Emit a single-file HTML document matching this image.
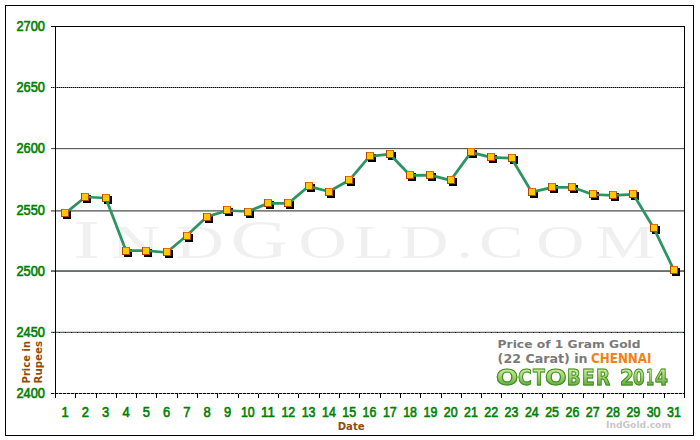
<!DOCTYPE html>
<html><head><meta charset="utf-8"><title>Gold price chart</title>
<style>
html,body{margin:0;padding:0;background:#fff;width:700px;height:440px;overflow:hidden}
svg{display:block}
.wrap{position:relative;width:700px;height:440px}
.oct{position:absolute;left:0;top:0;width:700px;height:440px;font-family:"DejaVu Sans",sans-serif;font-weight:bold;font-size:22px;line-height:22px;white-space:pre}
.oct span{position:absolute;top:367.3px;transform-origin:0 0;background:linear-gradient(to bottom,#cce79a 12%,#a0d16c 45%,#62ad3c 84%);-webkit-background-clip:text;background-clip:text;color:transparent;-webkit-text-stroke:1px #3d8e22}
.yl{font-family:"Liberation Sans",Arial,sans-serif;font-weight:normal;font-size:14px;fill:#008000;stroke:#008000;stroke-width:0.6px}
.xl{font-family:"Liberation Sans",Arial,sans-serif;font-weight:normal;font-size:14px;fill:#008000;stroke:#008000;stroke-width:0.6px}
.br{font-family:"DejaVu Sans",sans-serif;font-weight:bold;font-size:10px;fill:#8f4c0d}
.wm{font-family:"Liberation Serif",serif;fill:#f0f0f0;text-transform:uppercase}
.tt{font-family:"DejaVu Sans",sans-serif;font-weight:bold;fill:#7a7a7a}
</style></head><body>
<div class="wrap">
<svg width="700" height="440" viewBox="0 0 700 440">
<rect x="0" y="0" width="700" height="440" fill="#fff"/>

<rect x="5.5" y="5.5" width="688" height="430" fill="none" stroke="#000" stroke-width="1" shape-rendering="crispEdges"/>
<text class="wm" transform="scale(1.45,1)" y="258" font-size="55.3"><tspan x="50.5">I</tspan><tspan font-size="46" x="76.95 121.05">nd</tspan><tspan x="158.93">G</tspan><tspan font-size="46" x="205.78 243.72 276.02 314.69 330.29 369.91 410.74">old.com</tspan></text>
<line x1="51" y1="87.5" x2="684" y2="87.5" stroke="#7a7a7a" stroke-width="1" shape-rendering="crispEdges"/>
<line x1="51" y1="87.5" x2="684" y2="87.5" stroke="#000" stroke-width="1" stroke-dasharray="1 1" shape-rendering="crispEdges"/>
<line x1="51" y1="148.5" x2="684" y2="148.5" stroke="#5a5e5a" stroke-width="1" shape-rendering="crispEdges"/>
<line x1="51" y1="149.5" x2="684" y2="149.5" stroke="#e4e4e4" stroke-width="1" shape-rendering="crispEdges"/>
<line x1="51" y1="210.5" x2="684" y2="210.5" stroke="#7c7e7c" stroke-width="1" shape-rendering="crispEdges"/>
<line x1="51" y1="211.5" x2="684" y2="211.5" stroke="#a4a6a4" stroke-width="1" shape-rendering="crispEdges"/>
<line x1="51" y1="270.5" x2="684" y2="270.5" stroke="#7a7e7a" stroke-width="1" shape-rendering="crispEdges"/>
<line x1="51" y1="271.5" x2="684" y2="271.5" stroke="#6a6e6a" stroke-width="1" shape-rendering="crispEdges"/>
<line x1="51" y1="332.5" x2="684" y2="332.5" stroke="#5e625e" stroke-width="1" shape-rendering="crispEdges"/>
<line x1="53" y1="332.5" x2="684" y2="332.5" stroke="#000" stroke-width="1" stroke-dasharray="1 5" shape-rendering="crispEdges"/>
<line x1="51" y1="331.5" x2="684" y2="331.5" stroke="#d4d8d4" stroke-width="1" shape-rendering="crispEdges"/>
<line x1="51" y1="26.5" x2="685" y2="26.5" stroke="#000" stroke-width="1" shape-rendering="crispEdges"/>
<line x1="51" y1="393.5" x2="685" y2="393.5" stroke="#a0a0a0" stroke-width="1" shape-rendering="crispEdges"/>
<line x1="51" y1="393.5" x2="685" y2="393.5" stroke="#000" stroke-width="1" stroke-dasharray="3 1" shape-rendering="crispEdges"/>
<line x1="55.5" y1="26" x2="55.5" y2="398" stroke="#000" stroke-width="1" shape-rendering="crispEdges"/>
<line x1="684.5" y1="26" x2="684.5" y2="394" stroke="#000" stroke-width="1" shape-rendering="crispEdges"/>
<line x1="75.5" y1="394" x2="75.5" y2="398" stroke="#000" stroke-width="1" shape-rendering="crispEdges"/>
<line x1="96.5" y1="394" x2="96.5" y2="398" stroke="#000" stroke-width="1" shape-rendering="crispEdges"/>
<line x1="116.5" y1="394" x2="116.5" y2="398" stroke="#000" stroke-width="1" shape-rendering="crispEdges"/>
<line x1="136.5" y1="394" x2="136.5" y2="398" stroke="#000" stroke-width="1" shape-rendering="crispEdges"/>
<line x1="156.5" y1="394" x2="156.5" y2="398" stroke="#000" stroke-width="1" shape-rendering="crispEdges"/>
<line x1="177.5" y1="394" x2="177.5" y2="398" stroke="#000" stroke-width="1" shape-rendering="crispEdges"/>
<line x1="197.5" y1="394" x2="197.5" y2="398" stroke="#000" stroke-width="1" shape-rendering="crispEdges"/>
<line x1="217.5" y1="394" x2="217.5" y2="398" stroke="#000" stroke-width="1" shape-rendering="crispEdges"/>
<line x1="238.5" y1="394" x2="238.5" y2="398" stroke="#000" stroke-width="1" shape-rendering="crispEdges"/>
<line x1="258.5" y1="394" x2="258.5" y2="398" stroke="#000" stroke-width="1" shape-rendering="crispEdges"/>
<line x1="278.5" y1="394" x2="278.5" y2="398" stroke="#000" stroke-width="1" shape-rendering="crispEdges"/>
<line x1="298.5" y1="394" x2="298.5" y2="398" stroke="#000" stroke-width="1" shape-rendering="crispEdges"/>
<line x1="319.5" y1="394" x2="319.5" y2="398" stroke="#000" stroke-width="1" shape-rendering="crispEdges"/>
<line x1="339.5" y1="394" x2="339.5" y2="398" stroke="#000" stroke-width="1" shape-rendering="crispEdges"/>
<line x1="359.5" y1="394" x2="359.5" y2="398" stroke="#000" stroke-width="1" shape-rendering="crispEdges"/>
<line x1="380.5" y1="394" x2="380.5" y2="398" stroke="#000" stroke-width="1" shape-rendering="crispEdges"/>
<line x1="400.5" y1="394" x2="400.5" y2="398" stroke="#000" stroke-width="1" shape-rendering="crispEdges"/>
<line x1="420.5" y1="394" x2="420.5" y2="398" stroke="#000" stroke-width="1" shape-rendering="crispEdges"/>
<line x1="441.5" y1="394" x2="441.5" y2="398" stroke="#000" stroke-width="1" shape-rendering="crispEdges"/>
<line x1="461.5" y1="394" x2="461.5" y2="398" stroke="#000" stroke-width="1" shape-rendering="crispEdges"/>
<line x1="481.5" y1="394" x2="481.5" y2="398" stroke="#000" stroke-width="1" shape-rendering="crispEdges"/>
<line x1="501.5" y1="394" x2="501.5" y2="398" stroke="#000" stroke-width="1" shape-rendering="crispEdges"/>
<line x1="522.5" y1="394" x2="522.5" y2="398" stroke="#000" stroke-width="1" shape-rendering="crispEdges"/>
<line x1="542.5" y1="394" x2="542.5" y2="398" stroke="#000" stroke-width="1" shape-rendering="crispEdges"/>
<line x1="562.5" y1="394" x2="562.5" y2="398" stroke="#000" stroke-width="1" shape-rendering="crispEdges"/>
<line x1="583.5" y1="394" x2="583.5" y2="398" stroke="#000" stroke-width="1" shape-rendering="crispEdges"/>
<line x1="603.5" y1="394" x2="603.5" y2="398" stroke="#000" stroke-width="1" shape-rendering="crispEdges"/>
<line x1="623.5" y1="394" x2="623.5" y2="398" stroke="#000" stroke-width="1" shape-rendering="crispEdges"/>
<line x1="643.5" y1="394" x2="643.5" y2="398" stroke="#000" stroke-width="1" shape-rendering="crispEdges"/>
<line x1="664.5" y1="394" x2="664.5" y2="398" stroke="#000" stroke-width="1" shape-rendering="crispEdges"/>
<line x1="684.5" y1="394" x2="684.5" y2="398" stroke="#000" stroke-width="1" shape-rendering="crispEdges"/>
<text class="yl" x="45" y="31" text-anchor="end" textLength="28.5" lengthAdjust="spacingAndGlyphs">2700</text>
<text class="yl" x="45" y="92" text-anchor="end" textLength="28.5" lengthAdjust="spacingAndGlyphs">2650</text>
<text class="yl" x="45" y="153" text-anchor="end" textLength="28.5" lengthAdjust="spacingAndGlyphs">2600</text>
<text class="yl" x="45" y="215" text-anchor="end" textLength="28.5" lengthAdjust="spacingAndGlyphs">2550</text>
<text class="yl" x="45" y="276" text-anchor="end" textLength="28.5" lengthAdjust="spacingAndGlyphs">2500</text>
<text class="yl" x="45" y="337" text-anchor="end" textLength="28.5" lengthAdjust="spacingAndGlyphs">2450</text>
<text class="yl" x="45" y="398" text-anchor="end" textLength="28.5" lengthAdjust="spacingAndGlyphs">2400</text>
<text class="xl" x="65.1" y="417" text-anchor="middle" textLength="7.2" lengthAdjust="spacingAndGlyphs">1</text>
<text class="xl" x="85.4" y="417" text-anchor="middle" textLength="7.2" lengthAdjust="spacingAndGlyphs">2</text>
<text class="xl" x="105.7" y="417" text-anchor="middle" textLength="7.2" lengthAdjust="spacingAndGlyphs">3</text>
<text class="xl" x="126.0" y="417" text-anchor="middle" textLength="7.2" lengthAdjust="spacingAndGlyphs">4</text>
<text class="xl" x="146.3" y="417" text-anchor="middle" textLength="7.2" lengthAdjust="spacingAndGlyphs">5</text>
<text class="xl" x="166.6" y="417" text-anchor="middle" textLength="7.2" lengthAdjust="spacingAndGlyphs">6</text>
<text class="xl" x="186.9" y="417" text-anchor="middle" textLength="7.2" lengthAdjust="spacingAndGlyphs">7</text>
<text class="xl" x="207.2" y="417" text-anchor="middle" textLength="7.2" lengthAdjust="spacingAndGlyphs">8</text>
<text class="xl" x="227.5" y="417" text-anchor="middle" textLength="7.2" lengthAdjust="spacingAndGlyphs">9</text>
<text class="xl" x="247.8" y="417" text-anchor="middle" textLength="13.8" lengthAdjust="spacingAndGlyphs">10</text>
<text class="xl" x="268.0" y="417" text-anchor="middle" textLength="13.8" lengthAdjust="spacingAndGlyphs">11</text>
<text class="xl" x="288.3" y="417" text-anchor="middle" textLength="13.8" lengthAdjust="spacingAndGlyphs">12</text>
<text class="xl" x="308.6" y="417" text-anchor="middle" textLength="13.8" lengthAdjust="spacingAndGlyphs">13</text>
<text class="xl" x="328.9" y="417" text-anchor="middle" textLength="13.8" lengthAdjust="spacingAndGlyphs">14</text>
<text class="xl" x="349.2" y="417" text-anchor="middle" textLength="13.8" lengthAdjust="spacingAndGlyphs">15</text>
<text class="xl" x="369.5" y="417" text-anchor="middle" textLength="13.8" lengthAdjust="spacingAndGlyphs">16</text>
<text class="xl" x="389.8" y="417" text-anchor="middle" textLength="13.8" lengthAdjust="spacingAndGlyphs">17</text>
<text class="xl" x="410.1" y="417" text-anchor="middle" textLength="13.8" lengthAdjust="spacingAndGlyphs">18</text>
<text class="xl" x="430.4" y="417" text-anchor="middle" textLength="13.8" lengthAdjust="spacingAndGlyphs">19</text>
<text class="xl" x="450.7" y="417" text-anchor="middle" textLength="13.8" lengthAdjust="spacingAndGlyphs">20</text>
<text class="xl" x="471.0" y="417" text-anchor="middle" textLength="13.8" lengthAdjust="spacingAndGlyphs">21</text>
<text class="xl" x="491.2" y="417" text-anchor="middle" textLength="13.8" lengthAdjust="spacingAndGlyphs">22</text>
<text class="xl" x="511.5" y="417" text-anchor="middle" textLength="13.8" lengthAdjust="spacingAndGlyphs">23</text>
<text class="xl" x="531.8" y="417" text-anchor="middle" textLength="13.8" lengthAdjust="spacingAndGlyphs">24</text>
<text class="xl" x="552.1" y="417" text-anchor="middle" textLength="13.8" lengthAdjust="spacingAndGlyphs">25</text>
<text class="xl" x="572.4" y="417" text-anchor="middle" textLength="13.8" lengthAdjust="spacingAndGlyphs">26</text>
<text class="xl" x="592.7" y="417" text-anchor="middle" textLength="13.8" lengthAdjust="spacingAndGlyphs">27</text>
<text class="xl" x="613.0" y="417" text-anchor="middle" textLength="13.8" lengthAdjust="spacingAndGlyphs">28</text>
<text class="xl" x="633.3" y="417" text-anchor="middle" textLength="13.8" lengthAdjust="spacingAndGlyphs">29</text>
<text class="xl" x="653.6" y="417" text-anchor="middle" textLength="13.8" lengthAdjust="spacingAndGlyphs">30</text>
<text class="xl" x="673.9" y="417" text-anchor="middle" textLength="13.8" lengthAdjust="spacingAndGlyphs">31</text>
<text class="br" x="351.2" y="429.5" text-anchor="middle" textLength="27" lengthAdjust="spacingAndGlyphs">Date</text>
<text class="br" transform="translate(30,362.2) rotate(-90)" text-anchor="middle" textLength="42.5" lengthAdjust="spacingAndGlyphs">Price in</text>
<text class="br" transform="translate(41.5,362.2) rotate(-90)" text-anchor="middle" textLength="42.5" lengthAdjust="spacingAndGlyphs">Rupees</text>
<text x="606" y="428" font-family="DejaVu Sans,sans-serif" font-weight="bold" font-size="9" fill="#c8c8c8" textLength="65" lengthAdjust="spacingAndGlyphs">IndGold.com</text>
<text class="tt" x="497.6" y="347.7" font-size="10.5" textLength="143" lengthAdjust="spacingAndGlyphs">Price of 1 Gram Gold</text>
<text class="tt" x="497.6" y="362.5" font-size="11.4" textLength="90" lengthAdjust="spacingAndGlyphs">(22 Carat) in</text>
<text x="591" y="362.6" font-family="DejaVu Sans,sans-serif" font-weight="bold" font-size="14.6" fill="#f0821e" textLength="60.5" lengthAdjust="spacingAndGlyphs">CHENNAI</text>
<rect x="63" y="211" width="8" height="8" fill="#000" shape-rendering="crispEdges"/>
<rect x="83" y="195" width="8" height="8" fill="#000" shape-rendering="crispEdges"/>
<rect x="104" y="196" width="8" height="8" fill="#000" shape-rendering="crispEdges"/>
<rect x="124" y="249" width="8" height="8" fill="#000" shape-rendering="crispEdges"/>
<rect x="144" y="249" width="8" height="8" fill="#000" shape-rendering="crispEdges"/>
<rect x="165" y="250" width="8" height="8" fill="#000" shape-rendering="crispEdges"/>
<rect x="185" y="234" width="8" height="8" fill="#000" shape-rendering="crispEdges"/>
<rect x="205" y="215" width="8" height="8" fill="#000" shape-rendering="crispEdges"/>
<rect x="225" y="208" width="8" height="8" fill="#000" shape-rendering="crispEdges"/>
<rect x="246" y="210" width="8" height="8" fill="#000" shape-rendering="crispEdges"/>
<rect x="266" y="201" width="8" height="8" fill="#000" shape-rendering="crispEdges"/>
<rect x="286" y="201" width="8" height="8" fill="#000" shape-rendering="crispEdges"/>
<rect x="307" y="184" width="8" height="8" fill="#000" shape-rendering="crispEdges"/>
<rect x="327" y="190" width="8" height="8" fill="#000" shape-rendering="crispEdges"/>
<rect x="347" y="178" width="8" height="8" fill="#000" shape-rendering="crispEdges"/>
<rect x="368" y="154" width="8" height="8" fill="#000" shape-rendering="crispEdges"/>
<rect x="388" y="152" width="8" height="8" fill="#000" shape-rendering="crispEdges"/>
<rect x="408" y="173" width="8" height="8" fill="#000" shape-rendering="crispEdges"/>
<rect x="428" y="173" width="8" height="8" fill="#000" shape-rendering="crispEdges"/>
<rect x="449" y="178" width="8" height="8" fill="#000" shape-rendering="crispEdges"/>
<rect x="469" y="150" width="8" height="8" fill="#000" shape-rendering="crispEdges"/>
<rect x="489" y="155" width="8" height="8" fill="#000" shape-rendering="crispEdges"/>
<rect x="510" y="156" width="8" height="8" fill="#000" shape-rendering="crispEdges"/>
<rect x="530" y="190" width="8" height="8" fill="#000" shape-rendering="crispEdges"/>
<rect x="550" y="185" width="8" height="8" fill="#000" shape-rendering="crispEdges"/>
<rect x="570" y="185" width="8" height="8" fill="#000" shape-rendering="crispEdges"/>
<rect x="591" y="192" width="8" height="8" fill="#000" shape-rendering="crispEdges"/>
<rect x="611" y="193" width="8" height="8" fill="#000" shape-rendering="crispEdges"/>
<rect x="631" y="192" width="8" height="8" fill="#000" shape-rendering="crispEdges"/>
<rect x="652" y="226" width="8" height="8" fill="#000" shape-rendering="crispEdges"/>
<rect x="672" y="268" width="8" height="8" fill="#000" shape-rendering="crispEdges"/>
<polyline points="65.15,213.40 85.44,197.00 105.73,198.00 126.02,250.70 146.31,250.70 166.60,252.50 186.89,235.50 207.18,216.60 227.47,210.50 247.76,211.50 268.05,203.40 288.34,203.40 308.63,186.30 328.92,191.50 349.21,180.30 369.50,156.30 389.79,154.20 410.08,175.30 430.37,175.10 450.66,180.30 470.95,152.40 491.24,157.30 511.53,158.30 531.82,192.20 552.11,187.30 572.40,187.30 592.69,194.50 612.98,195.30 633.27,194.30 653.56,227.70 673.85,269.90" fill="none" stroke="#2b9461" stroke-width="2.75" stroke-linejoin="round"/>
<rect x="61" y="209" width="8" height="8" fill="#b34600" shape-rendering="crispEdges"/><rect x="62" y="209" width="7" height="1" fill="#dc7000" shape-rendering="crispEdges"/><rect x="62" y="210" width="6" height="6" fill="#ffc800" shape-rendering="crispEdges"/>
<rect x="81" y="193" width="8" height="8" fill="#b34600" shape-rendering="crispEdges"/><rect x="82" y="193" width="7" height="1" fill="#dc7000" shape-rendering="crispEdges"/><rect x="82" y="194" width="6" height="6" fill="#ffc800" shape-rendering="crispEdges"/>
<rect x="102" y="194" width="8" height="8" fill="#b34600" shape-rendering="crispEdges"/><rect x="103" y="194" width="7" height="1" fill="#dc7000" shape-rendering="crispEdges"/><rect x="103" y="195" width="6" height="6" fill="#ffc800" shape-rendering="crispEdges"/>
<rect x="122" y="247" width="8" height="8" fill="#b34600" shape-rendering="crispEdges"/><rect x="123" y="247" width="7" height="1" fill="#dc7000" shape-rendering="crispEdges"/><rect x="123" y="248" width="6" height="6" fill="#ffc800" shape-rendering="crispEdges"/>
<rect x="142" y="247" width="8" height="8" fill="#b34600" shape-rendering="crispEdges"/><rect x="143" y="247" width="7" height="1" fill="#dc7000" shape-rendering="crispEdges"/><rect x="143" y="248" width="6" height="6" fill="#ffc800" shape-rendering="crispEdges"/>
<rect x="163" y="248" width="8" height="8" fill="#b34600" shape-rendering="crispEdges"/><rect x="164" y="248" width="7" height="1" fill="#dc7000" shape-rendering="crispEdges"/><rect x="164" y="249" width="6" height="6" fill="#ffc800" shape-rendering="crispEdges"/>
<rect x="183" y="232" width="8" height="8" fill="#b34600" shape-rendering="crispEdges"/><rect x="184" y="232" width="7" height="1" fill="#dc7000" shape-rendering="crispEdges"/><rect x="184" y="233" width="6" height="6" fill="#ffc800" shape-rendering="crispEdges"/>
<rect x="203" y="213" width="8" height="8" fill="#b34600" shape-rendering="crispEdges"/><rect x="204" y="213" width="7" height="1" fill="#dc7000" shape-rendering="crispEdges"/><rect x="204" y="214" width="6" height="6" fill="#ffc800" shape-rendering="crispEdges"/>
<rect x="223" y="206" width="8" height="8" fill="#b34600" shape-rendering="crispEdges"/><rect x="224" y="206" width="7" height="1" fill="#dc7000" shape-rendering="crispEdges"/><rect x="224" y="207" width="6" height="6" fill="#ffc800" shape-rendering="crispEdges"/>
<rect x="244" y="208" width="8" height="8" fill="#b34600" shape-rendering="crispEdges"/><rect x="245" y="208" width="7" height="1" fill="#dc7000" shape-rendering="crispEdges"/><rect x="245" y="209" width="6" height="6" fill="#ffc800" shape-rendering="crispEdges"/>
<rect x="264" y="199" width="8" height="8" fill="#b34600" shape-rendering="crispEdges"/><rect x="265" y="199" width="7" height="1" fill="#dc7000" shape-rendering="crispEdges"/><rect x="265" y="200" width="6" height="6" fill="#ffc800" shape-rendering="crispEdges"/>
<rect x="284" y="199" width="8" height="8" fill="#b34600" shape-rendering="crispEdges"/><rect x="285" y="199" width="7" height="1" fill="#dc7000" shape-rendering="crispEdges"/><rect x="285" y="200" width="6" height="6" fill="#ffc800" shape-rendering="crispEdges"/>
<rect x="305" y="182" width="8" height="8" fill="#b34600" shape-rendering="crispEdges"/><rect x="306" y="182" width="7" height="1" fill="#dc7000" shape-rendering="crispEdges"/><rect x="306" y="183" width="6" height="6" fill="#ffc800" shape-rendering="crispEdges"/>
<rect x="325" y="188" width="8" height="8" fill="#b34600" shape-rendering="crispEdges"/><rect x="326" y="188" width="7" height="1" fill="#dc7000" shape-rendering="crispEdges"/><rect x="326" y="189" width="6" height="6" fill="#ffc800" shape-rendering="crispEdges"/>
<rect x="345" y="176" width="8" height="8" fill="#b34600" shape-rendering="crispEdges"/><rect x="346" y="176" width="7" height="1" fill="#dc7000" shape-rendering="crispEdges"/><rect x="346" y="177" width="6" height="6" fill="#ffc800" shape-rendering="crispEdges"/>
<rect x="366" y="152" width="8" height="8" fill="#b34600" shape-rendering="crispEdges"/><rect x="367" y="152" width="7" height="1" fill="#dc7000" shape-rendering="crispEdges"/><rect x="367" y="153" width="6" height="6" fill="#ffc800" shape-rendering="crispEdges"/>
<rect x="386" y="150" width="8" height="8" fill="#b34600" shape-rendering="crispEdges"/><rect x="387" y="150" width="7" height="1" fill="#dc7000" shape-rendering="crispEdges"/><rect x="387" y="151" width="6" height="6" fill="#ffc800" shape-rendering="crispEdges"/>
<rect x="406" y="171" width="8" height="8" fill="#b34600" shape-rendering="crispEdges"/><rect x="407" y="171" width="7" height="1" fill="#dc7000" shape-rendering="crispEdges"/><rect x="407" y="172" width="6" height="6" fill="#ffc800" shape-rendering="crispEdges"/>
<rect x="426" y="171" width="8" height="8" fill="#b34600" shape-rendering="crispEdges"/><rect x="427" y="171" width="7" height="1" fill="#dc7000" shape-rendering="crispEdges"/><rect x="427" y="172" width="6" height="6" fill="#ffc800" shape-rendering="crispEdges"/>
<rect x="447" y="176" width="8" height="8" fill="#b34600" shape-rendering="crispEdges"/><rect x="448" y="176" width="7" height="1" fill="#dc7000" shape-rendering="crispEdges"/><rect x="448" y="177" width="6" height="6" fill="#ffc800" shape-rendering="crispEdges"/>
<rect x="467" y="148" width="8" height="8" fill="#b34600" shape-rendering="crispEdges"/><rect x="468" y="148" width="7" height="1" fill="#dc7000" shape-rendering="crispEdges"/><rect x="468" y="149" width="6" height="6" fill="#ffc800" shape-rendering="crispEdges"/>
<rect x="487" y="153" width="8" height="8" fill="#b34600" shape-rendering="crispEdges"/><rect x="488" y="153" width="7" height="1" fill="#dc7000" shape-rendering="crispEdges"/><rect x="488" y="154" width="6" height="6" fill="#ffc800" shape-rendering="crispEdges"/>
<rect x="508" y="154" width="8" height="8" fill="#b34600" shape-rendering="crispEdges"/><rect x="509" y="154" width="7" height="1" fill="#dc7000" shape-rendering="crispEdges"/><rect x="509" y="155" width="6" height="6" fill="#ffc800" shape-rendering="crispEdges"/>
<rect x="528" y="188" width="8" height="8" fill="#b34600" shape-rendering="crispEdges"/><rect x="529" y="188" width="7" height="1" fill="#dc7000" shape-rendering="crispEdges"/><rect x="529" y="189" width="6" height="6" fill="#ffc800" shape-rendering="crispEdges"/>
<rect x="548" y="183" width="8" height="8" fill="#b34600" shape-rendering="crispEdges"/><rect x="549" y="183" width="7" height="1" fill="#dc7000" shape-rendering="crispEdges"/><rect x="549" y="184" width="6" height="6" fill="#ffc800" shape-rendering="crispEdges"/>
<rect x="568" y="183" width="8" height="8" fill="#b34600" shape-rendering="crispEdges"/><rect x="569" y="183" width="7" height="1" fill="#dc7000" shape-rendering="crispEdges"/><rect x="569" y="184" width="6" height="6" fill="#ffc800" shape-rendering="crispEdges"/>
<rect x="589" y="190" width="8" height="8" fill="#b34600" shape-rendering="crispEdges"/><rect x="590" y="190" width="7" height="1" fill="#dc7000" shape-rendering="crispEdges"/><rect x="590" y="191" width="6" height="6" fill="#ffc800" shape-rendering="crispEdges"/>
<rect x="609" y="191" width="8" height="8" fill="#b34600" shape-rendering="crispEdges"/><rect x="610" y="191" width="7" height="1" fill="#dc7000" shape-rendering="crispEdges"/><rect x="610" y="192" width="6" height="6" fill="#ffc800" shape-rendering="crispEdges"/>
<rect x="629" y="190" width="8" height="8" fill="#b34600" shape-rendering="crispEdges"/><rect x="630" y="190" width="7" height="1" fill="#dc7000" shape-rendering="crispEdges"/><rect x="630" y="191" width="6" height="6" fill="#ffc800" shape-rendering="crispEdges"/>
<rect x="650" y="224" width="8" height="8" fill="#b34600" shape-rendering="crispEdges"/><rect x="651" y="224" width="7" height="1" fill="#dc7000" shape-rendering="crispEdges"/><rect x="651" y="225" width="6" height="6" fill="#ffc800" shape-rendering="crispEdges"/>
<rect x="670" y="266" width="8" height="8" fill="#b34600" shape-rendering="crispEdges"/><rect x="671" y="266" width="7" height="1" fill="#dc7000" shape-rendering="crispEdges"/><rect x="671" y="267" width="6" height="6" fill="#ffc800" shape-rendering="crispEdges"/>
</svg>
<div class="oct"><span style="left:496.30px;transform:scaleX(1.188)">O</span><span style="left:518.16px;transform:scaleX(0.858)">C</span><span style="left:532.71px;transform:scaleX(0.792)">T</span><span style="left:545.13px;transform:scaleX(1.158)">O</span><span style="left:566.86px;transform:scaleX(0.810)">B</span><span style="left:582.40px;transform:scaleX(0.842)">E</span><span style="left:595.71px;transform:scaleX(0.836)">R</span> <span style="left:619.52px;transform:scaleX(0.909)">2</span><span style="left:633.09px;transform:scaleX(0.765)">0</span><span style="left:646.11px;transform:scaleX(0.522)">1</span><span style="left:655.06px;transform:scaleX(0.849)">4</span></div>
</div>
</body></html>
